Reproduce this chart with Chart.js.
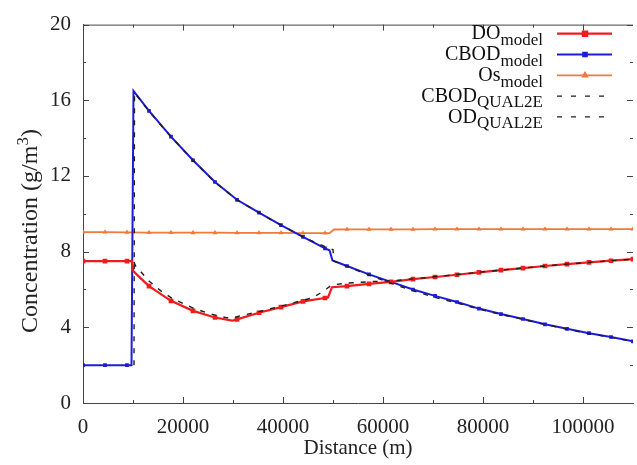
<!DOCTYPE html>
<html><head><meta charset="utf-8">
<script src="https://cdn.jsdelivr.net/npm/chart.js@4"></script>
<style>html,body{margin:0;padding:0;background:#fff}#wrap{width:637px;height:465px;position:relative}</style>
</head><body><div id="wrap"><canvas id="c" width="637" height="465"></canvas></div>
<script>
// ---- data (distance in m, concentration in g/m3) ----
const doX  = [0,4400,8800,9800,10000,11500,13200,17600,22000,26400,29800,30800,35200,39600,44000,48400,49000,49800,52800,57200,61600,66000,70400,74800,79200,83600,88000,92400,96800,101200,105600,110000];
const doY  = [7.5,7.5,7.5,7.5,6.99,6.6,6.18,5.40,4.87,4.52,4.35,4.42,4.77,5.07,5.37,5.55,5.58,6.12,6.18,6.30,6.40,6.55,6.66,6.78,6.90,7.02,7.13,7.24,7.34,7.43,7.52,7.60];

const cbodX = [0,4400,8800,9700,10100,13200,17600,22000,26400,30800,35200,39600,44000,48400,49300,49900,52800,57200,61600,66000,70400,74800,79200,83600,88000,92400,96800,101200,105600,110000];
const cbodY = [2.0,2.0,2.0,2.0,16.5,15.44,14.08,12.83,11.68,10.74,10.06,9.40,8.78,8.17,8.07,7.53,7.24,6.80,6.40,6.00,5.66,5.34,4.99,4.70,4.44,4.16,3.92,3.69,3.49,3.26];

const osX = [0,4400,8800,13200,17600,22000,26400,30800,35200,39600,44000,48400,49300,50200,52800,57200,61600,66000,70400,74800,79200,83600,88000,92400,96800,101200,105600,110000];
const osY = [9.03,9.03,9.02,9.01,9.01,9.00,9.00,8.99,8.99,8.99,8.98,8.98,8.98,9.17,9.18,9.18,9.18,9.18,9.19,9.19,9.19,9.19,9.19,9.19,9.19,9.19,9.19,9.19];

const cbodQX = [10200,10300,13200,17600,22000,26400,30800,35200,39600,44000,47400,50000,50200,52800,57200,61600,66000,70400,74800,79200,83600,88000,92400,96800,101200,105600,110000];
const cbodQY = [2.0,16.4,15.42,14.07,12.82,11.66,10.74,10.06,9.40,8.78,8.38,8.10,7.50,7.22,6.76,6.33,5.93,5.58,5.28,4.96,4.68,4.42,4.15,3.90,3.67,3.47,3.25];

const odQX = [10200,10500,11700,13200,15700,17600,20500,22000,25200,28600,29800,31500,34200,39600,44000,46000,47400,48800,49800,52500,55300,58000,61600,66000,70400,74800,79200,83600,88000,92400,96800,101200,105600,110000];
const odQY = [7.45,7.25,6.9,6.45,5.9,5.57,5.2,5.02,4.73,4.51,4.49,4.61,4.77,5.12,5.43,5.57,5.80,6.05,6.24,6.33,6.38,6.42,6.45,6.56,6.67,6.79,6.91,7.02,7.13,7.24,7.34,7.43,7.52,7.60];

const xTickValues = [0,20000,40000,60000,80000,100000];
const xMinorTicks = [10000,30000,50000,70000,90000];
const yTickValues = [0,4,8,12,16,20];
const yMinorTicks = [2,6,10,14,18];
const legendMain = ['DO','CBOD','Os','CBOD','OD'];
const legendSub  = ['model','model','model','QUAL2E','QUAL2E'];
const xTitle = 'Distance (m)';
const yTitleMain = 'Concentration (g/m';
const yTitleSup = '3';
const yTitleEnd = ')';
const markerStep = 4400;

// ---- styles ----
const RED = '#ee1c1c', BLUE = '#1c1cd8', ORANGE = '#f07a3a', DASH = '#1e1e1e', AXIS = '#444444';
const SERIF = '"Liberation Serif", "Times New Roman", serif';

const pts = (xs, ys) => xs.map((v, i) => ({x: v, y: ys[i]}));
const markerRadius = r => ctx => (ctx.raw && ctx.raw.x % markerStep === 0) ? r : 0;

const frame = {
  id: 'frame',
  beforeDatasetsDraw(chart) {
    const {ctx, chartArea: {left, right, top, bottom}, scales: {x, y}} = chart;
    ctx.save();
    ctx.strokeStyle = AXIS; ctx.lineWidth = 1;
    ctx.beginPath();
    ctx.moveTo(left, top + 0.5); ctx.lineTo(right, top + 0.5);
    const xt = (v, len) => { const p = Math.round(x.getPixelForValue(v)) + 0.5;
      ctx.moveTo(p, bottom); ctx.lineTo(p, bottom - len); ctx.moveTo(p, top); ctx.lineTo(p, top + len); };
    const yt = (v, len) => { const p = Math.round(y.getPixelForValue(v)) + 0.5;
      ctx.moveTo(left, p); ctx.lineTo(left + len, p); ctx.moveTo(right, p); ctx.lineTo(right - len, p); };
    xTickValues.forEach(v => xt(v, 6)); xMinorTicks.forEach(v => xt(v, 3));
    yTickValues.forEach(v => yt(v, 6)); yMinorTicks.forEach(v => yt(v, 3));
    ctx.stroke();
    ctx.restore();
  },
  afterDraw(chart) {
    const {ctx, chartArea: {left, right}} = chart;
    ctx.save();
    ctx.fillStyle = '#222';
    // x title
    ctx.font = '21px ' + SERIF; ctx.textAlign = 'center'; ctx.textBaseline = 'alphabetic';
    ctx.fillText(xTitle, (left + right) / 2, 454);
    // y title with superscript
    ctx.translate(37, 231); ctx.rotate(-Math.PI / 2);
    ctx.textAlign = 'left';
    const fMain = '24px ' + SERIF, fSup = '17px ' + SERIF;
    ctx.font = fMain; const w1 = ctx.measureText(yTitleMain).width, w3 = ctx.measureText(yTitleEnd).width;
    ctx.font = fSup; const w2 = ctx.measureText(yTitleSup).width;
    let sx = -(w1 + w2 + w3) / 2;
    ctx.font = fMain; ctx.fillText(yTitleMain, sx, 0); sx += w1;
    ctx.font = fSup; ctx.fillText(yTitleSup, sx, -9); sx += w2;
    ctx.font = fMain; ctx.fillText(yTitleEnd, sx, 0);
    ctx.restore();

    // legend
    ctx.save();
    const styles = [
      {color: RED, width: 2.2, dash: [], marker: 'rect', r: 3},
      {color: BLUE, width: 2, dash: [], marker: 'rect', r: 2.5},
      {color: ORANGE, width: 1.8, dash: [], marker: 'triangle', r: 2.6},
      {color: DASH, width: 1.4, dash: [5, 9], marker: null},
      {color: DASH, width: 1.4, dash: [5, 9], marker: null}
    ];
    const textRight = 543, x0 = 557, x1 = 612, xm = 585;
    legendMain.forEach((m, i) => {
      const ly = 33.7 + 20.8 * i;
      ctx.fillStyle = '#111';
      ctx.textAlign = 'left'; ctx.textBaseline = 'alphabetic';
      ctx.font = '17px ' + SERIF; const ws = ctx.measureText(legendSub[i]).width;
      ctx.font = '20px ' + SERIF; const wm = ctx.measureText(m).width;
      ctx.fillText(m, textRight - ws - wm, ly + 5.6);
      ctx.font = '17px ' + SERIF; ctx.fillText(legendSub[i], textRight - ws, ly + 11.3);
      const s = styles[i];
      ctx.strokeStyle = s.color; ctx.lineWidth = s.width; ctx.setLineDash(s.dash);
      ctx.beginPath();
      ctx.moveTo(x0, ly); ctx.lineTo(s.marker ? x1 : 604, ly); ctx.stroke();
      ctx.setLineDash([]);
      if (s.marker) {
        Chart.helpers.drawPoint(ctx, {pointStyle: s.marker, radius: s.r, borderWidth: 1, rotation: 0}, xm, ly);
        ctx.fillStyle = s.color;
        ctx.fill();
      }
    });
    ctx.restore();
  }
};

new Chart(document.getElementById('c'), {
  type: 'line',
  data: {
    datasets: [
      {label: 'CBOD QUAL2E', data: pts(cbodQX, cbodQY), borderColor: DASH, borderWidth: 1.4, borderDash: [5, 7], pointRadius: 0, order: 0},
      {label: 'OD QUAL2E', data: pts(odQX, odQY), borderColor: DASH, borderWidth: 1.4, borderDash: [5, 7], pointRadius: 0, order: 0},
      {label: 'DO model', data: pts(doX, doY), borderColor: RED, backgroundColor: RED, borderWidth: 2.2, pointStyle: 'rect', pointRadius: markerRadius(3.3), pointBorderWidth: 0, order: 1},
      {label: 'CBOD model', data: pts(cbodX, cbodY), borderColor: BLUE, backgroundColor: BLUE, borderWidth: 2, pointStyle: 'rect', pointRadius: markerRadius(2.6), pointBorderWidth: 0, order: 2},
      {label: 'Os model', data: pts(osX, osY), borderColor: ORANGE, backgroundColor: ORANGE, borderWidth: 1.8, pointStyle: 'triangle', pointRadius: markerRadius(2.9), pointBorderWidth: 0, order: 3}
    ]
  },
  options: {
    responsive: false, animation: false, devicePixelRatio: 1,
    layout: {padding: {top: 18, right: 0, left: 0, bottom: 0}},
    elements: {line: {tension: 0, fill: false}},
    plugins: {legend: {display: false}, tooltip: {enabled: false}},
    events: [],
    scales: {
      x: {
        type: 'linear', min: 0, max: 110000,
        grid: {display: false, drawTicks: false},
        border: {display: true, color: AXIS, width: 1},
        afterBuildTicks: s => { s.ticks = xTickValues.map(v => ({value: v})); },
        afterFit: s => { s.height = 62; },
        ticks: {padding: 12, color: '#222', font: {family: SERIF, size: 21}, maxRotation: 0, autoSkip: false, callback: v => String(v)}
      },
      y: {
        type: 'linear', min: 0, max: 20,
        grid: {display: false, drawTicks: false},
        border: {display: true, color: AXIS, width: 1},
        afterBuildTicks: s => { s.ticks = yTickValues.map(v => ({value: v})); },
        afterFit: s => { s.width = 83; },
        ticks: {padding: 12, color: '#222', font: {family: SERIF, size: 21}, callback: v => String(v)}
      }
    }
  },
  plugins: [frame]
});
</script></body></html>
